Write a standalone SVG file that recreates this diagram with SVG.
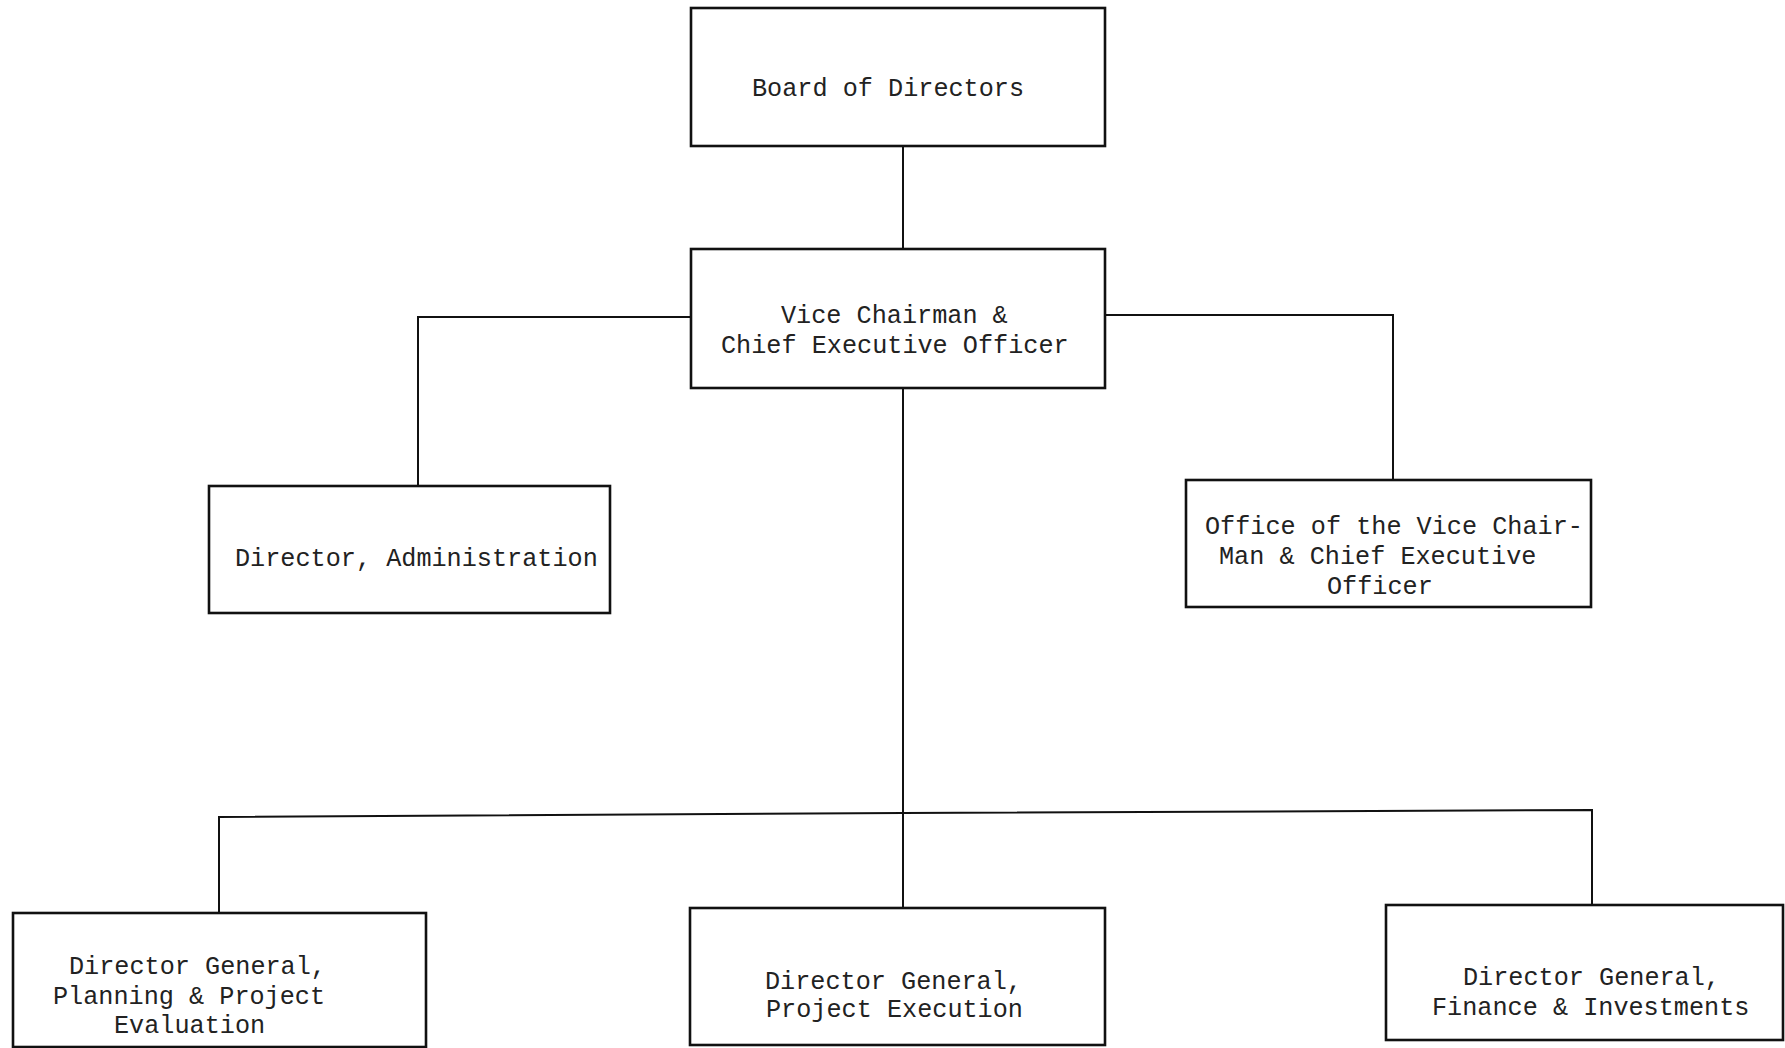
<svg xmlns="http://www.w3.org/2000/svg" width="1785" height="1048" viewBox="0 0 1785 1048">
<style>
.box{fill:#fff;stroke:#111;stroke-width:2.6}
.conn{fill:none;stroke:#111;stroke-width:2}
text{font-family:"Liberation Mono","Courier New",monospace;font-size:25.2px;fill:#222}
</style>
<rect width="1785" height="1048" fill="#fff"/>
<g id="connectors">
<line class="conn" x1="903" y1="146" x2="903" y2="249"/>
<polyline class="conn" points="691,317 418,317 418,486"/>
<polyline class="conn" points="1105,315 1393,315 1393,480"/>
<line class="conn" x1="903" y1="388" x2="903" y2="908"/>
<polyline class="conn" points="219,913 219,817 903,813 1592,810 1592,905"/>
</g>
<g id="board"><rect class="box" x="691" y="8" width="414" height="138"/><text x="752" y="95.5">Board of Directors</text></g>
<g id="ceo"><rect class="box" x="691" y="249" width="414" height="139"/><text x="781" y="322.5">Vice Chairman &amp;</text><text x="721" y="352.5">Chief Executive Officer</text></g>
<g id="admin"><rect class="box" x="209" y="486" width="401" height="127"/><text x="235" y="565.5">Director, Administration</text></g>
<g id="office"><rect class="box" x="1186" y="480" width="405" height="127"/><text x="1205" y="533.5">Office of the Vice Chair-</text><text x="1219" y="563.5">Man &amp; Chief Executive</text><text x="1327" y="594">Officer</text></g>
<g id="planning"><rect class="box" x="13" y="913" width="413" height="134"/><text x="69" y="973.5">Director General,</text><text x="53" y="1003.5">Planning &amp; Project</text><text x="114" y="1033">Evaluation</text></g>
<g id="execution"><rect class="box" x="690" y="908" width="415" height="137"/><text x="765" y="988.5">Director General,</text><text x="766" y="1017">Project Execution</text></g>
<g id="finance"><rect class="box" x="1386" y="905" width="397" height="135"/><text x="1463" y="984.5">Director General,</text><text x="1432" y="1015">Finance &amp; Investments</text></g>
</svg>
